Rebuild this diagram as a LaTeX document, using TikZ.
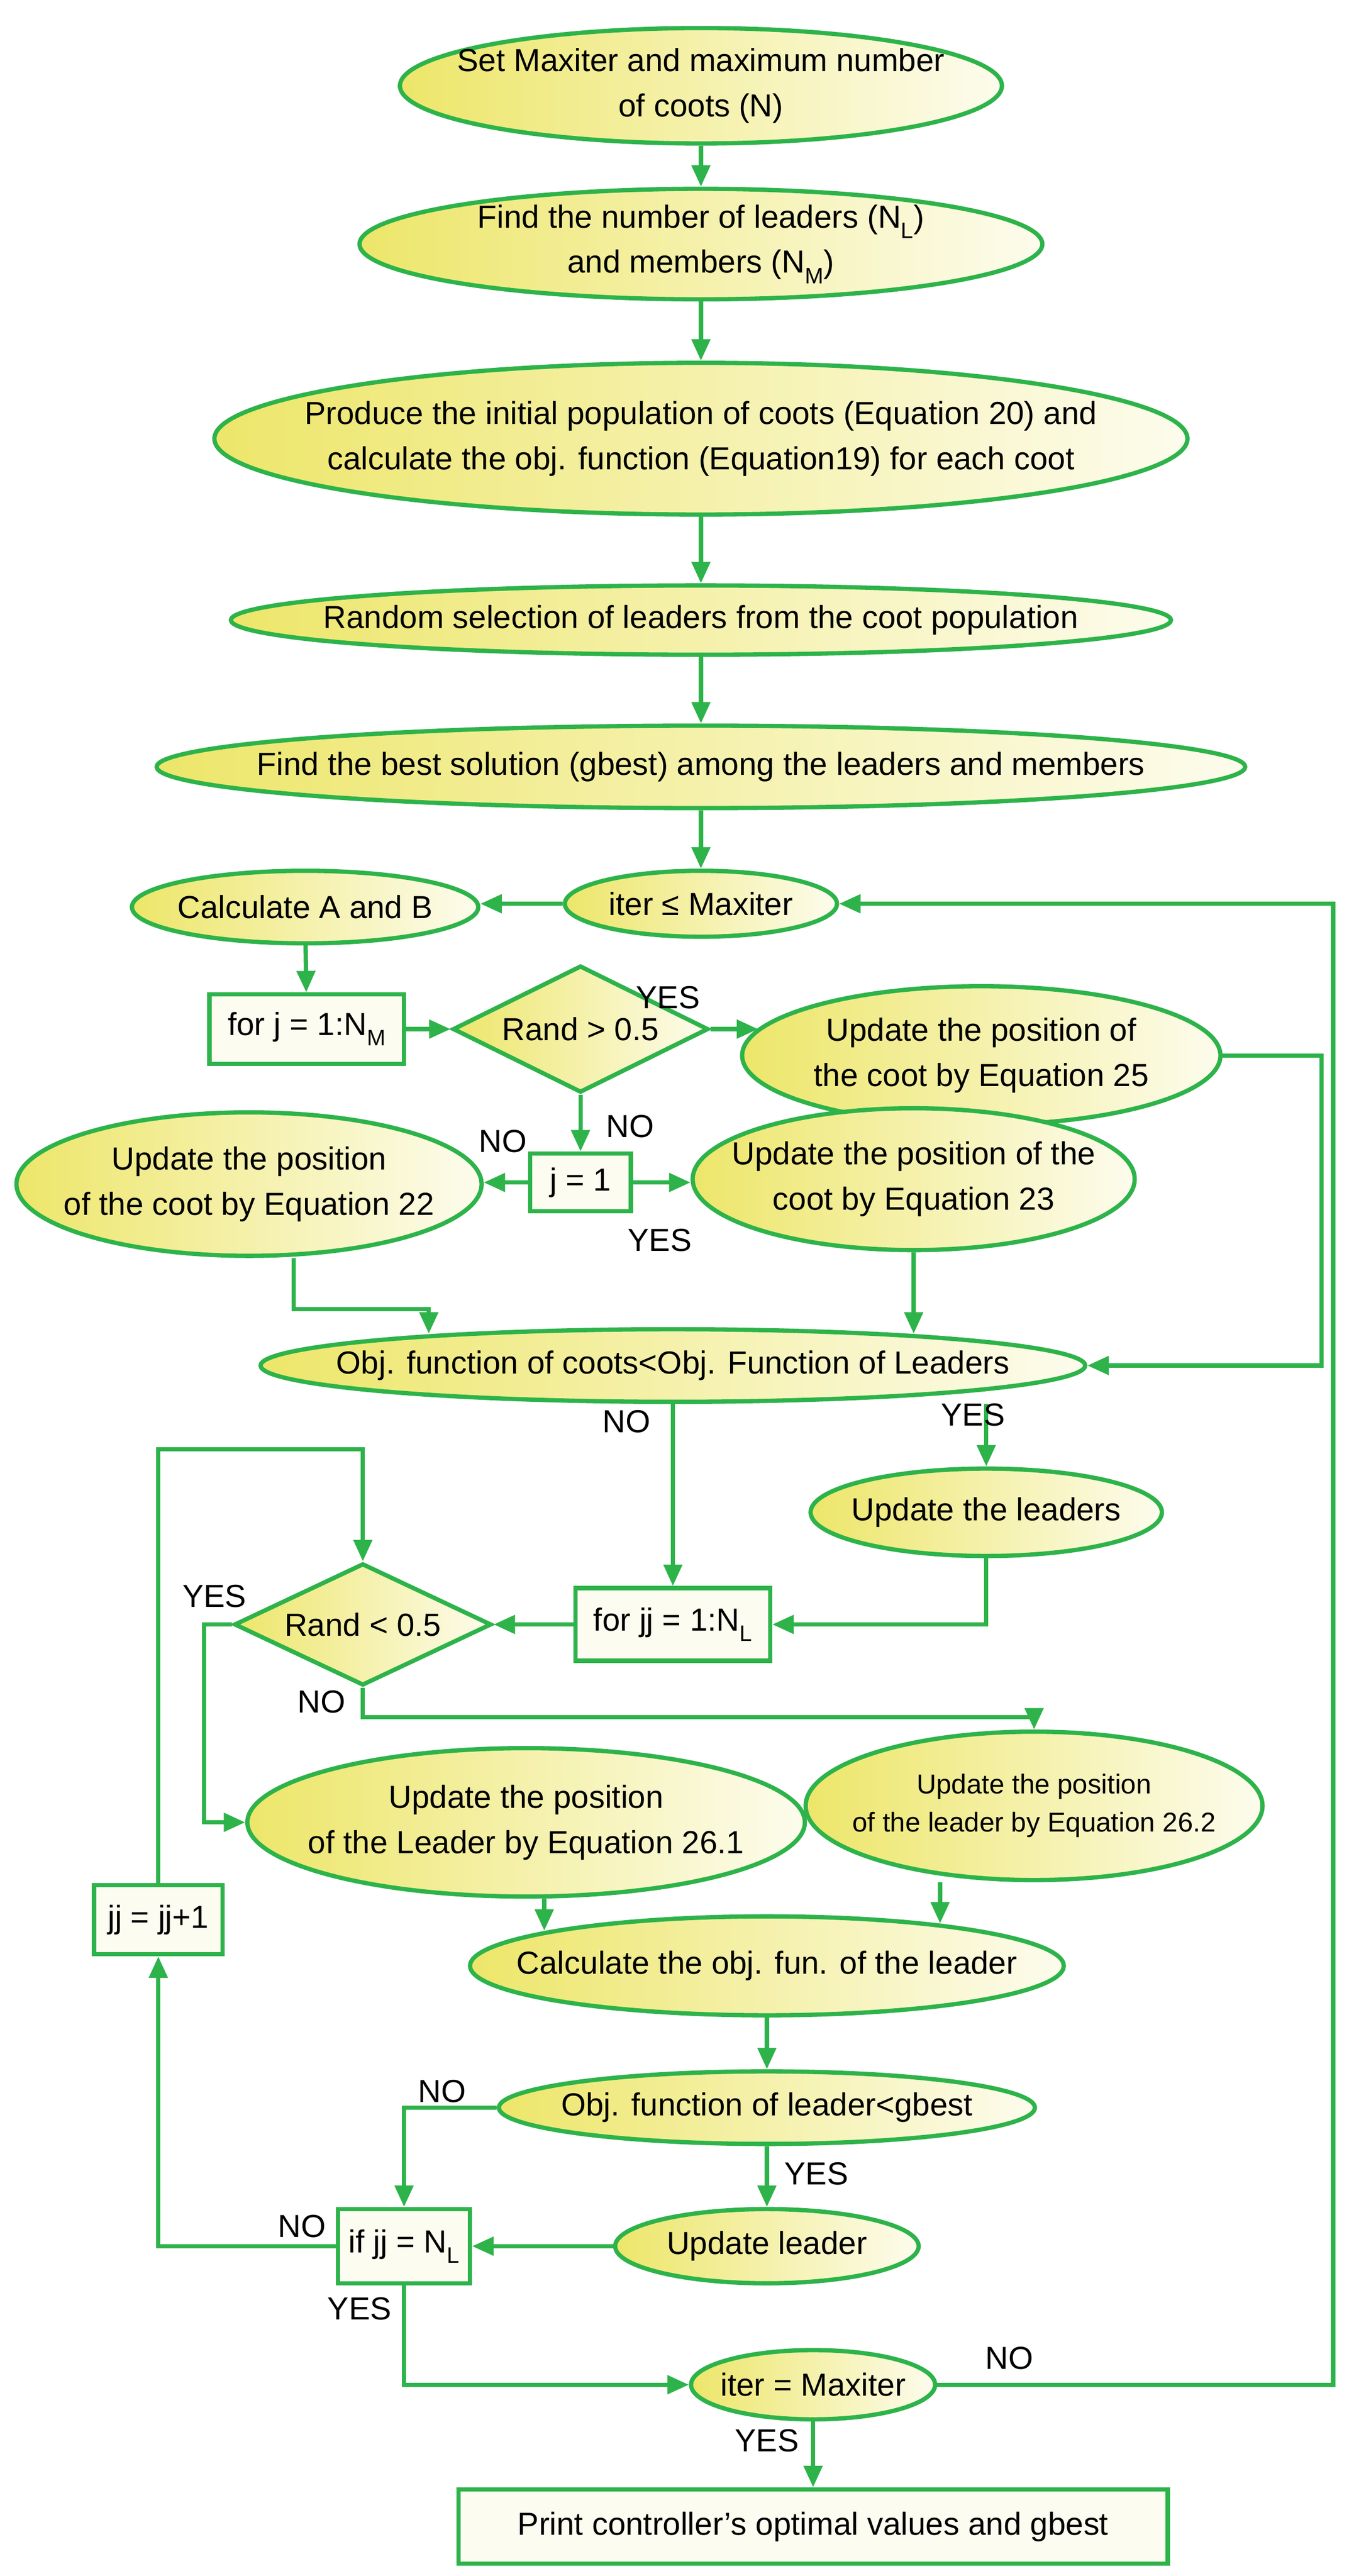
\documentclass[tikz,border=0pt]{standalone}
\usepackage{fontspec}
\setmainfont{Liberation Sans}
\usetikzlibrary{shapes.geometric,arrows.meta}
\definecolor{gr}{HTML}{2DB34A}
\definecolor{yl}{HTML}{EDE66A}
\pgfdeclarelayer{bg}
\pgfdeclarelayer{paper}
\pgfsetlayers{paper,bg,main}
\tikzset{
  ell/.style={ellipse,draw=gr,line width=2.6mm,left color=yl,right color=yl!12,inner sep=0},
  rct/.style={rectangle,draw=gr,line width=2.6mm,fill=yl!10,inner sep=0},
  dia/.style={diamond,draw=gr,line width=2.6mm,left color=yl,right color=yl!12,inner sep=0},
  txt/.style={align=center,font=\fontsize{55}{78}\selectfont,inner sep=0},
  lbl/.style={font=\fontsize{55}{78}\selectfont,inner sep=0},
  arr/.style={draw=gr,line width=2.6mm,-{Triangle[length=13mm,width=11mm]}}
}
\newcommand\Ell[5]{\node[ell,minimum width=#3mm,minimum height=#4mm] (#1) at (#2) {};\node[txt] at (#1) {#5};}
\newcommand\Rct[5]{\node[rct,minimum width=#3mm,minimum height=#4mm] (#1) at (#2) {};\node[txt] at (#1) {#5};}
\newcommand\Dia[5]{\node[dia,minimum width=#3mm,minimum height=#4mm] (#1) at (#2) {};\node[txt] at (#1) {#5};}
\begin{document}
\begin{tikzpicture}[x=1mm,y=-1mm]
\begin{pgfonlayer}{paper}
\fill[white] (0,0) rectangle (820.8,1562);
\end{pgfonlayer}
\useasboundingbox (0,0) rectangle (820.8,1562);
\Ell{a}{425,52}{365}{70}{Set Maxiter and maximum number\\of coots (N)}
\Ell{b}{425,148}{414}{67}{Find the number of leaders (N\textsubscript{L})\\and members (N\textsubscript{M})}
\Ell{c}{425,266}{590}{92}{Produce the initial population of coots (Equation 20) and\\calculate the obj. function (Equation19) for each coot}
\Ell{d}{425,376}{570}{42}{Random selection of leaders from the coot population}
\Ell{e}{425,465}{660}{50}{Find the best solution (gbest) among the leaders and members}
\Ell{f}{425,548}{165}{40}{iter ≤ Maxiter}
\Ell{g}{185,550}{210}{44}{Calculate A and B}
\Rct{h}{186,624}{118}{42}{for j = 1:N\textsubscript{M}}
\Dia{i}{352,624}{155}{77}{Rand > 0.5}
\Ell{k}{595,640}{290}{84}{Update the position of\\the coot by Equation 25}
\Rct{l}{352,717}{61}{35}{j = 1}
\Ell{m}{151,718}{282}{87}{Update the position\\of the coot by Equation 22}
\Ell{n}{554,715}{268}{86}{Update the position of the\\coot by Equation 23}
\Ell{o}{408,828}{500}{44}{Obj. function of coots<Obj. Function of Leaders}
\Ell{p}{598,917}{213}{53}{Update the leaders}
\Rct{q}{408,985}{118}{44}{for jj = 1:N\textsubscript{L}}
\Dia{r}{220,985}{156}{74}{Rand < 0.5}
\Ell{s}{319,1105}{338}{90}{Update the position\\of the Leader by Equation 26.1}
\node[ell,minimum width=277mm,minimum height=90mm] (t) at (627,1095) {};
\node[txt,font=\fontsize{47}{66}\selectfont] at (t) {Update the position\\of the leader by Equation 26.2};
\Ell{u}{465,1192}{360}{60}{Calculate the obj. fun. of the leader}
\Rct{v}{96,1164}{78}{42}{jj = jj+1}
\Ell{w}{465,1278}{325}{44}{Obj. function of leader<gbest}
\Ell{x}{465,1362}{184}{45}{Update leader}
\Rct{y}{245,1362}{80}{45}{if jj = N\textsubscript{L}}
\Ell{z}{493,1446}{148}{42}{iter = Maxiter}
\Rct{zz}{493,1532}{430}{45}{Print controller’s optimal values and gbest}
\begin{pgfonlayer}{bg}
\draw[arr] (a)--(b);
\draw[arr] (b)--(c);
\draw[arr] (c)--(d);
\draw[arr] (d)--(e);
\draw[arr] (e)--(f);
\draw[arr] (f.west)--(f.west -| g.east);
\draw[arr] (g)--(h);
\draw[arr] (h)--(i);
\draw[arr] (i.east) -- ([xshift=11mm]i.east -| k.west);
\draw[arr] (i.south)--(l.north);
\draw[arr] (l.west)--(l.west -| m.east);
\draw[arr] (l.east)--(l.east -| n.west);
\draw[arr] ([xshift=27mm]m.south) -- ++(0,31) -| ([xshift=-148mm,yshift=-4mm]o.north);
\draw[arr] (n.south) -- ([xshift=146mm,yshift=-4mm]o.north);
\draw[arr] (k.east) -- ++(60,0) |- (o.east);
\draw[arr] (o.south) -- (o.south |- q.north);
\draw[arr] ([xshift=190mm]o.south) -- ([xshift=190mm]o.south |- p.north);
\draw[arr] (p.south) |- (q.east);
\draw[arr] (q.west)--(r.east);
\draw[arr] (r.west) -- ++(-17,0) |- (s.west);
\draw[arr] (r.south) -- ++(0,18) -| (t.north);
\draw[arr] ([xshift=11mm]s.south) -- ([xshift=-135mm,yshift=-10mm]u.north);
\draw[arr] ([xshift=-57mm]t.south) -- ([xshift=105mm,yshift=-5.6mm]u.north);
\draw[arr] (u)--(w);
\draw[arr] (w)--(x);
\draw[arr] (w.west) -| (y.north);
\draw[arr] (x.west)--(y.east);
\draw[arr] (y.west) -| (v.south);
\draw[arr] (v.north) -- ++(0,-263) -| (r.north);
\draw[arr] (y.south) |- (z.west);
\draw[arr] (z.east) -- ++(240,0) |- (f.east);
\draw[arr] (z.south)--(zz.north);
\end{pgfonlayer}
\node[lbl] at (405,605) {YES};
\node[lbl] at (382,683) {NO};
\node[lbl] at (305,692) {NO};
\node[lbl] at (400,752) {YES};
\node[lbl] at (380,862) {NO};
\node[lbl] at (590,858) {YES};
\node[lbl] at (130,968) {YES};
\node[lbl] at (195,1032) {NO};
\node[lbl] at (268,1268) {NO};
\node[lbl] at (495,1318) {YES};
\node[lbl] at (183,1350) {NO};
\node[lbl] at (218,1400) {YES};
\node[lbl] at (612,1430) {NO};
\node[lbl] at (465,1480) {YES};
\end{tikzpicture}
\end{document}
